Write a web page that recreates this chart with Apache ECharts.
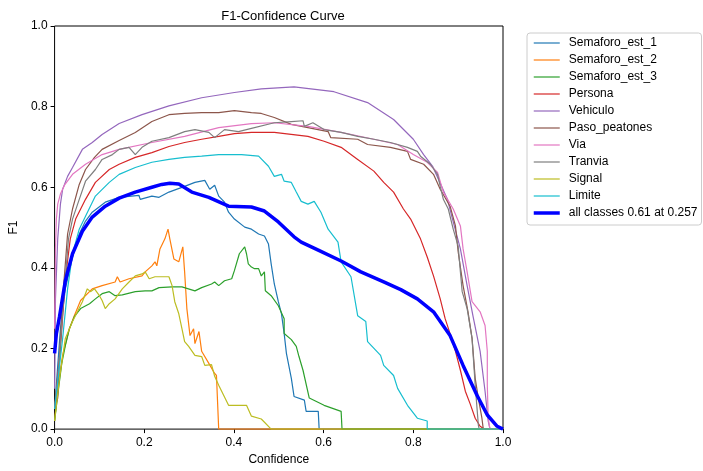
<!DOCTYPE html>
<html>
<head>
<meta charset="utf-8">
<script src="https://cdn.jsdelivr.net/npm/echarts@6/dist/echarts.min.js"></script>
<style>
  html, body { margin: 0; padding: 0; background: #fff; }
  #chart { width: 703px; height: 471px; }
</style>
</head>
<body>
<div id="chart"></div>
<script>
// F1 score against confidence threshold, per class, as [confidence, F1] pairs
const semaforoEst1 = [
  [0, 0.05], [0.013, 0.249], [0.024, 0.348], [0.040, 0.427], [0.055, 0.484], [0.069, 0.516],
  [0.084, 0.538], [0.113, 0.563], [0.144, 0.575], [0.188, 0.580], [0.191, 0.570], [0.217, 0.578],
  [0.233, 0.575], [0.255, 0.588], [0.290, 0.602], [0.313, 0.612], [0.335, 0.617], [0.346, 0.595],
  [0.357, 0.605], [0.366, 0.578], [0.379, 0.563], [0.388, 0.538], [0.401, 0.521], [0.424, 0.501],
  [0.439, 0.496], [0.455, 0.484], [0.468, 0.479], [0.477, 0.459], [0.483, 0.410], [0.490, 0.360],
  [0.499, 0.316], [0.506, 0.286], [0.512, 0.237], [0.517, 0.188], [0.528, 0.126], [0.534, 0.081],
  [0.557, 0.072], [0.561, 0.044], [0.588, 0.044], [0.590, 0], [1.0, 0]
];
const semaforoEst2 = [
  [0, 0.02], [0.007, 0.101], [0.018, 0.183], [0.033, 0.249], [0.044, 0.281], [0.058, 0.319],
  [0.084, 0.348], [0.106, 0.356], [0.135, 0.365], [0.140, 0.378], [0.146, 0.365], [0.166, 0.373],
  [0.195, 0.380], [0.202, 0.390], [0.217, 0.405], [0.224, 0.415], [0.228, 0.405], [0.235, 0.447],
  [0.246, 0.472], [0.253, 0.496], [0.257, 0.472], [0.266, 0.422], [0.277, 0.415], [0.286, 0.452],
  [0.290, 0.390], [0.295, 0.299], [0.302, 0.232], [0.310, 0.249], [0.313, 0.212], [0.322, 0.242],
  [0.328, 0.193], [0.344, 0.163], [0.357, 0.138], [0.361, 0.133], [0.366, 0], [1.0, 0]
];
const semaforoEst3 = [
  [0, 0.02], [0.007, 0.084], [0.016, 0.163], [0.024, 0.207], [0.033, 0.249], [0.044, 0.279],
  [0.058, 0.299], [0.078, 0.311], [0.091, 0.323], [0.106, 0.336], [0.122, 0.341], [0.135, 0.331],
  [0.151, 0.333], [0.180, 0.341], [0.202, 0.343], [0.217, 0.343], [0.233, 0.351], [0.262, 0.353],
  [0.284, 0.353], [0.313, 0.343], [0.328, 0.351], [0.350, 0.360], [0.357, 0.365], [0.366, 0.356],
  [0.379, 0.368], [0.395, 0.373], [0.401, 0.393], [0.412, 0.435], [0.424, 0.452], [0.428, 0.435],
  [0.432, 0.410], [0.439, 0.402], [0.446, 0.398], [0.455, 0.398], [0.461, 0.380], [0.468, 0.390],
  [0.470, 0.343], [0.483, 0.331], [0.499, 0.306], [0.512, 0.274], [0.512, 0.237], [0.528, 0.222],
  [0.539, 0.205], [0.545, 0.180], [0.554, 0.146], [0.568, 0.077], [0.601, 0.059], [0.639, 0.044],
  [0.641, 0], [1.0, 0]
];
const persona = [
  [0, 0.05], [0.013, 0.200], [0.024, 0.373], [0.035, 0.472], [0.047, 0.521], [0.069, 0.570],
  [0.091, 0.612], [0.122, 0.644], [0.144, 0.657], [0.180, 0.674], [0.217, 0.686], [0.255, 0.701],
  [0.290, 0.711], [0.328, 0.719], [0.366, 0.726], [0.401, 0.733], [0.439, 0.736], [0.490, 0.736],
  [0.565, 0.726], [0.601, 0.714], [0.639, 0.699], [0.676, 0.669], [0.712, 0.640], [0.734, 0.612],
  [0.756, 0.588], [0.778, 0.546], [0.794, 0.521], [0.816, 0.472], [0.831, 0.427], [0.845, 0.380],
  [0.860, 0.323], [0.871, 0.274], [0.882, 0.237], [0.894, 0.193], [0.905, 0.146], [0.916, 0.094],
  [0.927, 0.062], [0.938, 0.027], [0.949, 0.007], [0.958, 0], [1.0, 0]
];
const vehiculo = [
  [0, 0.10], [0.002, 0.323], [0.007, 0.472], [0.013, 0.558], [0.018, 0.595], [0.029, 0.627],
  [0.040, 0.649], [0.062, 0.694], [0.084, 0.711], [0.106, 0.731], [0.144, 0.758], [0.195, 0.780],
  [0.255, 0.802], [0.328, 0.822], [0.401, 0.835], [0.461, 0.844], [0.534, 0.849], [0.623, 0.837],
  [0.698, 0.810], [0.756, 0.768], [0.800, 0.719], [0.823, 0.681], [0.843, 0.652], [0.854, 0.625],
  [0.876, 0.570], [0.889, 0.514], [0.905, 0.447], [0.920, 0.356], [0.933, 0.281], [0.949, 0.193],
  [0.960, 0.094], [0.967, 0.020], [0.971, 0], [1.0, 0]
];
const pasoPeatones = [
  [0, 0.05], [0.007, 0.077], [0.013, 0.225], [0.018, 0.323], [0.029, 0.484], [0.040, 0.546],
  [0.055, 0.607], [0.069, 0.644], [0.089, 0.674], [0.106, 0.694], [0.144, 0.716], [0.180, 0.736],
  [0.217, 0.763], [0.255, 0.780], [0.290, 0.783], [0.328, 0.785], [0.366, 0.785], [0.401, 0.790],
  [0.439, 0.785], [0.461, 0.783], [0.490, 0.773], [0.528, 0.756], [0.565, 0.748], [0.610, 0.738],
  [0.616, 0.723], [0.676, 0.719], [0.698, 0.706], [0.749, 0.699], [0.787, 0.689], [0.794, 0.669],
  [0.823, 0.657], [0.845, 0.632], [0.860, 0.595], [0.882, 0.553], [0.894, 0.504], [0.900, 0.440],
  [0.911, 0.356], [0.922, 0.291], [0.931, 0.225], [0.938, 0.126], [0.945, 0.077], [0.953, 0.027],
  [0.956, 0], [1.0, 0]
];
const via = [
  [0, 0.249], [0.002, 0.447], [0.004, 0.521], [0.007, 0.558], [0.013, 0.583], [0.022, 0.605],
  [0.040, 0.632], [0.069, 0.657], [0.106, 0.681], [0.144, 0.694], [0.217, 0.711], [0.290, 0.726],
  [0.366, 0.748], [0.439, 0.758], [0.490, 0.760], [0.565, 0.751], [0.639, 0.736], [0.712, 0.719],
  [0.765, 0.706], [0.800, 0.681], [0.831, 0.662], [0.854, 0.637], [0.867, 0.588], [0.889, 0.546],
  [0.905, 0.504], [0.911, 0.447], [0.920, 0.390], [0.931, 0.316], [0.949, 0.291], [0.960, 0.257],
  [0.965, 0.193], [0.965, 0.109], [0.967, 0.027], [0.971, 0], [1.0, 0]
];
const tranvia = [
  [0, 0.05], [0.009, 0.151], [0.022, 0.348], [0.031, 0.472], [0.040, 0.521], [0.055, 0.570],
  [0.069, 0.615], [0.091, 0.644], [0.106, 0.669], [0.129, 0.681], [0.144, 0.694], [0.166, 0.699],
  [0.180, 0.681], [0.195, 0.699], [0.217, 0.714], [0.255, 0.723], [0.290, 0.738], [0.313, 0.743],
  [0.344, 0.736], [0.357, 0.723], [0.379, 0.743], [0.410, 0.738], [0.439, 0.746], [0.490, 0.760],
  [0.528, 0.763], [0.554, 0.765], [0.557, 0.751], [0.576, 0.760], [0.601, 0.743], [0.639, 0.736],
  [0.676, 0.726], [0.712, 0.719], [0.749, 0.711], [0.787, 0.699], [0.809, 0.689], [0.816, 0.677],
  [0.838, 0.657], [0.854, 0.632], [0.860, 0.602], [0.867, 0.570], [0.878, 0.546], [0.889, 0.496],
  [0.900, 0.454], [0.905, 0.390], [0.909, 0.341], [0.920, 0.299], [0.931, 0.225], [0.938, 0.109],
  [0.945, 0.010], [0.947, 0], [1.0, 0]
];
const signal = [
  [0, 0.02], [0.011, 0.126], [0.024, 0.225], [0.040, 0.267], [0.062, 0.316], [0.073, 0.348],
  [0.080, 0.341], [0.089, 0.348], [0.100, 0.331], [0.106, 0.319], [0.113, 0.299], [0.122, 0.311],
  [0.135, 0.323], [0.151, 0.348], [0.166, 0.365], [0.180, 0.380], [0.195, 0.385], [0.202, 0.390],
  [0.211, 0.373], [0.224, 0.378], [0.255, 0.378], [0.262, 0.356], [0.268, 0.316], [0.277, 0.286],
  [0.284, 0.249], [0.290, 0.217], [0.299, 0.205], [0.313, 0.183], [0.328, 0.180], [0.335, 0.158],
  [0.350, 0.160], [0.357, 0.131], [0.366, 0.109], [0.388, 0.059], [0.417, 0.059], [0.428, 0.059],
  [0.439, 0.032], [0.461, 0.025], [0.483, 0], [1.0, 0]
];
const limite = [
  [0, 0.05], [0.018, 0.225], [0.029, 0.348], [0.040, 0.435], [0.055, 0.496], [0.069, 0.528],
  [0.091, 0.578], [0.122, 0.612], [0.144, 0.632], [0.180, 0.649], [0.217, 0.662], [0.255, 0.669],
  [0.290, 0.674], [0.328, 0.677], [0.366, 0.681], [0.417, 0.681], [0.455, 0.677], [0.477, 0.652],
  [0.490, 0.627], [0.506, 0.632], [0.512, 0.615], [0.528, 0.612], [0.539, 0.588], [0.550, 0.565],
  [0.565, 0.558], [0.579, 0.565], [0.594, 0.538], [0.610, 0.496], [0.632, 0.464], [0.639, 0.415],
  [0.661, 0.378], [0.676, 0.281], [0.694, 0.267], [0.698, 0.217], [0.727, 0.183], [0.734, 0.158],
  [0.756, 0.133], [0.765, 0.101], [0.787, 0.059], [0.809, 0.027], [0.831, 0.020], [0.831, 0], [1.0, 0]
];
const allClasses = [
  [0, 0.188], [0.004, 0.237], [0.011, 0.279], [0.024, 0.368], [0.040, 0.435], [0.062, 0.491],
  [0.084, 0.526], [0.113, 0.553], [0.144, 0.573], [0.180, 0.588], [0.217, 0.600], [0.239, 0.607],
  [0.257, 0.610], [0.277, 0.608], [0.306, 0.588], [0.344, 0.575], [0.388, 0.553], [0.439, 0.551],
  [0.468, 0.541], [0.499, 0.514], [0.534, 0.477], [0.550, 0.464], [0.588, 0.444], [0.639, 0.417],
  [0.683, 0.390], [0.734, 0.365], [0.772, 0.346], [0.809, 0.323], [0.845, 0.291], [0.882, 0.232],
  [0.911, 0.158], [0.942, 0.084], [0.965, 0.035], [0.987, 0.007], [1.0, 0]
];

const classNames = [
  'Semaforo_est_1', 'Semaforo_est_2', 'Semaforo_est_3', 'Persona', 'Vehiculo',
  'Paso_peatones', 'Via', 'Tranvia', 'Signal', 'Limite'
];
const classCurves = [
  semaforoEst1, semaforoEst2, semaforoEst3, persona, vehiculo,
  pasoPeatones, via, tranvia, signal, limite
];
const classColors = [
  '#1f77b4', '#ff7f0e', '#2ca02c', '#d62728', '#9467bd',
  '#8c564b', '#e377c2', '#7f7f7f', '#bcbd22', '#17becf'
];
const allName = 'all classes 0.61 at 0.257';
const axisTicks = [0, 0.2, 0.4, 0.6, 0.8, 1.0];

const FONT = "'Liberation Sans', Arial, sans-serif";

const series = classNames.map((name, i) => ({
  name: name,
  type: 'line',
  data: classCurves[i],
  showSymbol: false,
  symbol: 'none',
  lineStyle: { width: 1.2, color: classColors[i] },
  itemStyle: { color: classColors[i] },
  z: 2 + i,
  silent: true
}));
series.push({
  name: allName,
  type: 'line',
  data: allClasses,
  showSymbol: false,
  symbol: 'none',
  lineStyle: { width: 3.5, color: '#0000ff' },
  itemStyle: { color: '#0000ff' },
  z: 20,
  silent: true
});

const chart = echarts.init(document.getElementById('chart'), null, { renderer: 'canvas' });
chart.setOption({
  animation: false,
  backgroundColor: '#ffffff',
  title: {
    text: 'F1-Confidence Curve',
    left: 278,
    top: 5,
    textAlign: 'center',
    textStyle: { fontFamily: FONT, fontSize: 13, fontWeight: 'normal', color: '#000' }
  },
  grid: {
    left: 52, right: 200, top: 26, bottom: 40,
    show: true, borderColor: '#000', borderWidth: 1, backgroundColor: 'transparent'
  },
  legend: {
    orient: 'vertical',
    left: 527,
    top: 33,
    padding: [4, 4, 6, 5],
    itemWidth: 26,
    itemHeight: 14,
    itemGap: 5,
    borderColor: '#cccccc',
    borderWidth: 1,
    borderRadius: 3,
    backgroundColor: '#ffffff',
    itemStyle: { opacity: 0 },
    lineStyle: { width: 'inherit' },
    textStyle: { fontFamily: FONT, fontSize: 12, color: '#000', padding: [0, 0, 0, 4] },
    data: classNames.concat([allName]),
    selectedMode: false
  },
  xAxis: {
    type: 'value',
    min: 0, max: 1, interval: 0.2,
    name: 'Confidence',
    nameLocation: 'middle',
    nameGap: 22,
    nameTextStyle: { fontFamily: FONT, fontSize: 12, color: '#000' },
    axisLine: { show: false },
    axisTick: { show: true, inside: false, length: 4, lineStyle: { color: '#000' } },
    axisLabel: {
      fontFamily: FONT, fontSize: 12, color: '#000', margin: 8,
      formatter: v => axisTicks.some(t => Math.abs(t - v) < 1e-9) ? v.toFixed(1) : ''
    },
    splitLine: { show: false }
  },
  yAxis: {
    type: 'value',
    min: 0, max: 1, interval: 0.2,
    name: 'F1',
    nameLocation: 'middle',
    nameGap: 28,
    nameRotate: 90,
    nameTextStyle: { fontFamily: FONT, fontSize: 12, color: '#000' },
    axisLine: { show: false },
    axisTick: { show: true, inside: false, length: 4, lineStyle: { color: '#000' } },
    axisLabel: {
      fontFamily: FONT, fontSize: 12, color: '#000', margin: 7,
      formatter: v => axisTicks.some(t => Math.abs(t - v) < 1e-9) ? v.toFixed(1) : ''
    },
    splitLine: { show: false }
  },
  series: series
});
</script>
</body>
</html>
